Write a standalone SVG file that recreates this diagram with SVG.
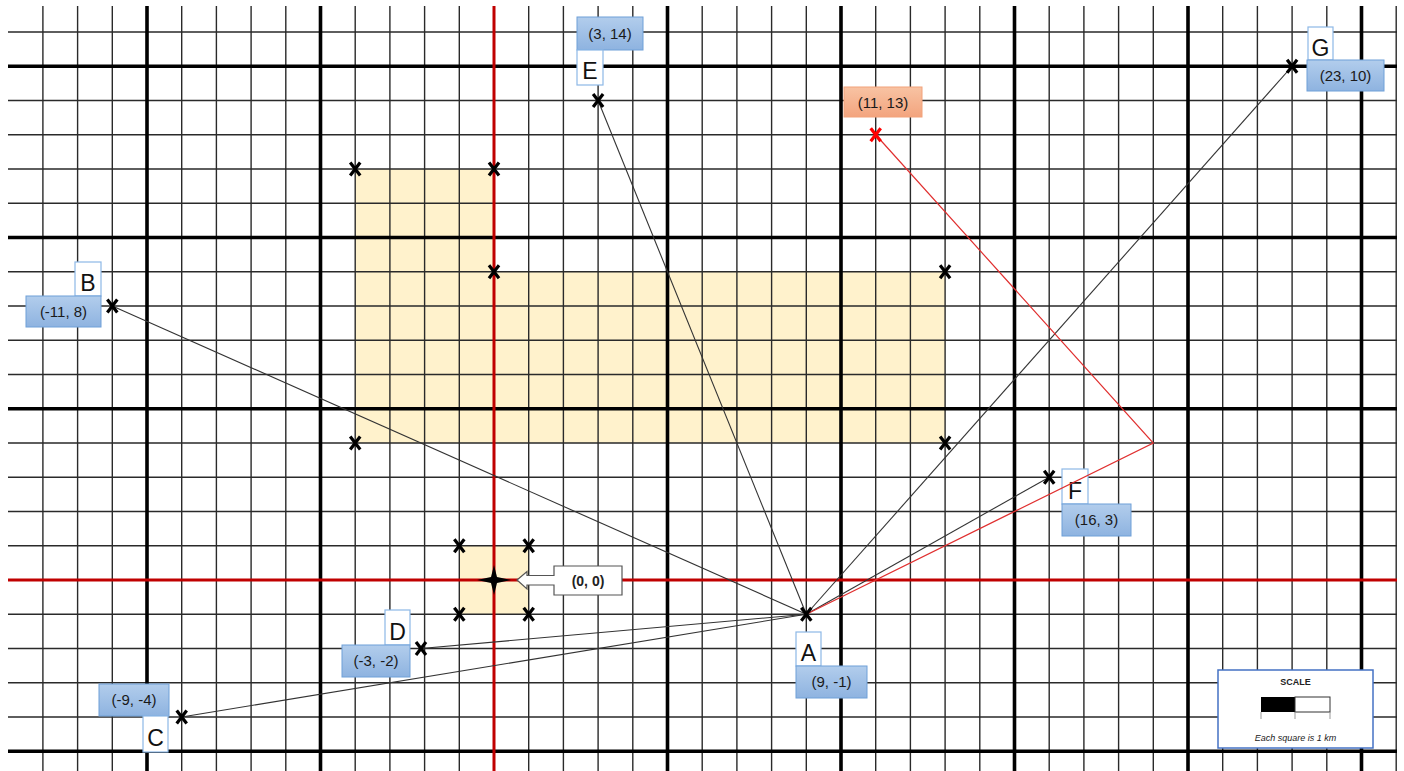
<svg xmlns="http://www.w3.org/2000/svg" width="1404" height="771" viewBox="0 0 1404 771">
<style>
.thin{stroke:#2a2a2a;stroke-width:1.4;fill:none}
.thick{stroke:#000;stroke-width:3.6;fill:none}
.axis{stroke:#C00000;stroke-width:3;fill:none}
.zone{fill:#FFF2CC;stroke:none}
.lbl{fill:url(#blueg);stroke:#6FA0D8;stroke-width:1}
.olbl{fill:url(#orgg);stroke:#F2A27B;stroke-width:1}
.let{fill:#fff;stroke:#8DB8E6;stroke-width:1.2}
.t{font-family:"Liberation Sans",Arial,sans-serif;font-size:15px;fill:#1a1a1a;text-anchor:middle}
.L{font-family:"Liberation Sans",Arial,sans-serif;font-size:23px;fill:#111;text-anchor:middle}
.conn{stroke:#333;stroke-width:1.1;fill:none}
.rconn{stroke:#E03030;stroke-width:1.2;fill:none}
</style>
<defs>
<linearGradient id="blueg" x1="0" y1="0" x2="0" y2="1">
<stop offset="0" stop-color="#B2CDEC"/><stop offset="1" stop-color="#8EB3E0"/>
</linearGradient>
<linearGradient id="orgg" x1="0" y1="0" x2="0" y2="1">
<stop offset="0" stop-color="#F8C3A3"/><stop offset="1" stop-color="#F3A47E"/>
</linearGradient>
<path id="x" d="M-5,-6.5 L5,6.5 M5,-6.5 L-5,6.5" stroke-width="3.2" fill="none"/>
</defs>
<rect width="1404" height="771" fill="#fff"/>
<g id="zones">
<path class="zone" d="M355.2,169 H494 V271.75 H945.1 V443 H355.2 Z"/>
<rect class="zone" x="459.3" y="545.75" width="69.4" height="68.5"/>
</g>
<g id="grid">
<path class="thin" d="M42.9,6V771 M77.6,6V771 M112.3,6V771 M181.7,6V771 M216.4,6V771 M251.1,6V771 M285.8,6V771 M355.2,6V771 M389.9,6V771 M424.6,6V771 M459.3,6V771 M528.7,6V771 M563.4,6V771 M598.1,6V771 M632.8,6V771 M702.2,6V771 M736.9,6V771 M771.6,6V771 M806.3,6V771 M875.7,6V771 M910.4,6V771 M945.1,6V771 M979.8,6V771 M1049.2,6V771 M1083.9,6V771 M1118.6,6V771 M1153.3,6V771 M1222.7,6V771 M1257.4,6V771 M1292.1,6V771 M1326.8,6V771 M1396.2,6V771
M8,32H1397 M8,100.5H1397 M8,134.75H1397 M8,169H1397 M8,203.25H1397 M8,271.75H1397 M8,306H1397 M8,340.25H1397 M8,374.5H1397 M8,443H1397 M8,477.25H1397 M8,511.5H1397 M8,545.75H1397 M8,614.25H1397 M8,648.5H1397 M8,682.75H1397 M8,717H1397"/>
<path class="thick" d="M147,6V771 M320.5,6V771 M667.5,6V771 M841,6V771 M1014.5,6V771 M1188,6V771 M1361.5,6V771 M8,66.25H1397 M8,237.5H1397 M8,408.75H1397 M8,751.25H1397"/>
<path class="axis" d="M494,6V771 M8,580H1397"/>
</g>
<g id="zone-markers" stroke="#000">
<use href="#x" x="355.2" y="169"/>
<use href="#x" x="494" y="169"/>
<use href="#x" x="494" y="271.75"/>
<use href="#x" x="945.1" y="271.75"/>
<use href="#x" x="945.1" y="443"/>
<use href="#x" x="355.2" y="443"/>
<use href="#x" x="459.3" y="545.75"/>
<use href="#x" x="528.7" y="545.75"/>
<use href="#x" x="459.3" y="614.25"/>
<use href="#x" x="528.7" y="614.25"/>
</g>
<g id="origin">
<path d="M494,565 L497,577 L511,580 L497,583 L494,595 L491,583 L477,580 L491,577 Z" fill="#000"/>
<path d="M517,580 L527,571.5 L527,575.5 L554,575.5 L554,566 L622,566 L622,595 L554,595 L554,585 L527,585 L527,589 Z" fill="#fff" stroke="#555" stroke-width="1.2"/>
<text x="588" y="585.5" font-family="Liberation Sans, Arial, sans-serif" font-size="14" font-weight="bold" fill="#222" text-anchor="middle">(0, 0)</text>
</g>
<g id="node-A">
<rect class="let" x="796" y="632" width="25" height="34"/>
<text class="L" x="808.5" y="661">A</text>
<rect class="lbl" x="796" y="666" width="71" height="32"/>
<text class="t" x="831.5" y="687">(9, -1)</text>
</g>
<g id="node-B">
<rect class="let" x="75" y="262" width="26" height="34"/>
<text class="L" x="88" y="291">B</text>
<rect class="lbl" x="26" y="296" width="75" height="31"/>
<text class="t" x="63.5" y="317">(-11, 8)</text>
</g>
<g id="node-C">
<rect class="lbl" x="99" y="684" width="70" height="32"/>
<text class="t" x="134" y="705">(-9, -4)</text>
<rect class="let" x="143" y="716" width="25" height="36"/>
<text class="L" x="155.5" y="746">C</text>
</g>
<g id="node-D">
<rect class="let" x="385" y="610" width="25" height="35"/>
<text class="L" x="397.5" y="640">D</text>
<rect class="lbl" x="342" y="645" width="68" height="32"/>
<text class="t" x="376" y="666">(-3, -2)</text>
</g>
<g id="node-E">
<rect class="lbl" x="577" y="17" width="66" height="33"/>
<text class="t" x="610" y="39">(3, 14)</text>
<rect class="let" x="577" y="50" width="26" height="35"/>
<text class="L" x="590" y="79">E</text>
</g>
<g id="node-F">
<rect class="let" x="1062" y="469" width="26" height="35"/>
<text class="L" x="1075" y="499">F</text>
<rect class="lbl" x="1062" y="504" width="69" height="32"/>
<text class="t" x="1096.5" y="525">(16, 3)</text>
</g>
<g id="node-G">
<rect class="let" x="1308" y="27" width="25" height="33"/>
<text class="L" x="1320.5" y="56">G</text>
<rect class="lbl" x="1307" y="60" width="77" height="31"/>
<text class="t" x="1345.5" y="81">(23, 10)</text>
</g>
<g id="node-target">
<rect class="olbl" x="844" y="87" width="78" height="30"/>
<text class="t" x="883" y="107.5">(11, 13)</text>
</g>
<g id="connectors">
<path class="conn" d="M806.3,614.25 L112.3,306"/>
<path class="conn" d="M806.3,614.25 L598.1,100.5"/>
<path class="conn" d="M806.3,614.25 L1292.1,66.25"/>
<path class="conn" d="M806.3,614.25 L1049.2,477.25"/>
<path class="conn" d="M806.3,614.25 L421,648.5"/>
<path class="conn" d="M806.3,614.25 L181.7,717"/>
<path class="rconn" d="M806.3,614.25 L1153.3,443 L875.7,134.75"/>
</g>
<g id="point-markers" stroke="#000">
<use href="#x" x="806.3" y="614.25"/>
<use href="#x" x="112.3" y="306"/>
<use href="#x" x="181.7" y="717"/>
<use href="#x" x="421" y="648.5"/>
<use href="#x" x="598.1" y="100.5"/>
<use href="#x" x="1049.2" y="477.25"/>
<use href="#x" x="1292.1" y="66.25"/>
<use href="#x" x="875.7" y="134.75" stroke="#FF0000"/>
</g>
<g id="scale">
<rect x="1218" y="670" width="155" height="78" fill="#fff" stroke="#4472C4" stroke-width="1.5"/>
<text x="1295.5" y="685" font-family="Liberation Sans, Arial, sans-serif" font-size="9" font-weight="bold" fill="#222" text-anchor="middle">SCALE</text>
<rect x="1261" y="697" width="34" height="15" fill="#000"/>
<rect x="1295" y="697" width="35" height="15" fill="#fff" stroke="#333" stroke-width="1"/>
<path d="M1261,712V719 M1295,712V719 M1330,712V719" stroke="#999" stroke-width="1"/>
<text x="1295.5" y="741" font-family="Liberation Sans, Arial, sans-serif" font-size="9" font-style="italic" fill="#222" text-anchor="middle">Each square is 1 km</text>
</g>
</svg>
